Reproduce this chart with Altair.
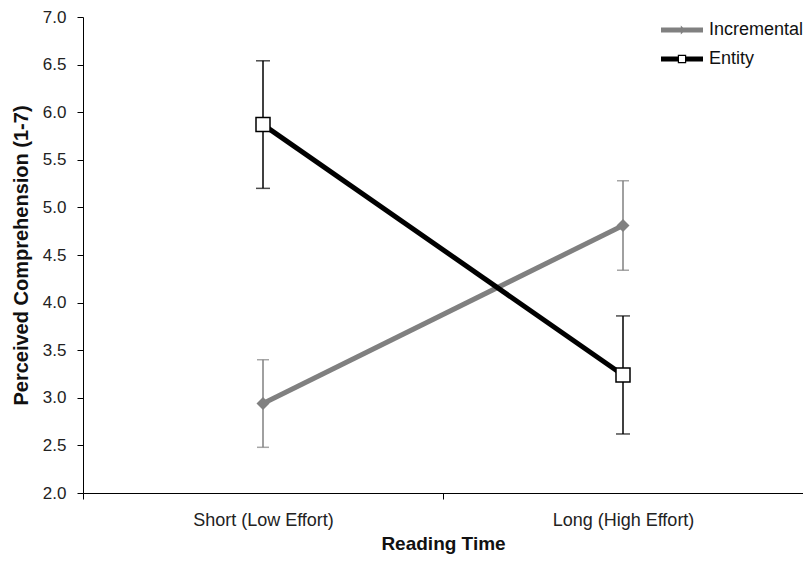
import altair as alt
import pandas as pd

categories = ["Short (Low Effort)", "Long (High Effort)"]
series_names = ["Incremental", "Entity"]
incremental = [2.94, 4.81]
incremental_err = [0.46, 0.47]
entity = [5.87, 3.24]
entity_err = [0.67, 0.62]

rows = []
for name, vals, errs in [("Incremental", incremental, incremental_err), ("Entity", entity, entity_err)]:
    for c, v, e in zip(categories, vals, errs):
        rows.append({"series": name, "category": c, "value": v, "lo": v - e, "hi": v + e})
df = pd.DataFrame(rows)

FONT = "Liberation Sans"
GRAY = "#808080"
BLACK = "#000000"

x_enc = alt.X(
    "category:N",
    sort=categories,
    scale=alt.Scale(type="band", paddingInner=0, paddingOuter=0),
    axis=alt.Axis(
        title="Reading Time",
        labelAngle=0,
        tickBand="extent",
        labelFontSize=18,
        labelPadding=12,
        titleFontSize=19,
        titleFontWeight="bold",
        titlePadding=5,
    ),
)
y_scale = alt.Scale(domain=[2, 7], nice=False, zero=False)
y_enc = alt.Y(
    "value:Q",
    scale=y_scale,
    axis=alt.Axis(
        title="Perceived Comprehension (1-7)",
        values=[2, 2.5, 3, 3.5, 4, 4.5, 5, 5.5, 6, 6.5, 7],
        format=".1f",
        labelFontSize=17,
        labelPadding=11,
        titleFontSize=20,
        titleFontWeight="bold",
        titlePadding=11,
    ),
)

base = alt.Chart(df)

# legend symbols: a thick line with the series marker, drawn wider than the symbol box
entity_path = ("M-1.75,-0.21H-0.35V0.21H-1.75Z M0.35,-0.21H1.75V0.21H0.35Z "
               "M-0.35,-0.36H0.35V0.36H-0.35Z M-0.25,-0.26V0.26H0.25V-0.26Z")
incr_path = "M-1.75,-0.2H1.75V0.2H-1.75Z M-0.1,-0.38L0.3,0L-0.1,0.38Z"

leg = dict(
    title=None,
    orient="none",
    legendX=587,
    legendY=1,
    padding=0,
    symbolSize=576,
    symbolStrokeWidth=0,
    labelFontSize=18,
    labelFont=FONT,
    labelColor="#111111",
    labelOffset=15,
    rowPadding=8,
    symbolOpacity=1,
)

legend_layer = base.mark_point(filled=True, size=6, opacity=1).encode(
    x=x_enc,
    y=y_enc,
    color=alt.Color(
        "series:N",
        scale=alt.Scale(domain=series_names, range=[GRAY, BLACK]),
        legend=alt.Legend(**leg),
    ),
    shape=alt.Shape(
        "series:N",
        scale=alt.Scale(domain=series_names, range=[incr_path, entity_path]),
        legend=alt.Legend(**leg),
    ),
)

layers = [legend_layer]
styles = {
    "Incremental": dict(color=GRAY, cap=12, ew=1.5),
    "Entity": dict(color=BLACK, cap=14, ew=1.5),
}
for name in series_names:
    st = styles[name]
    sub = base.transform_filter(alt.datum.series == name)
    layers.append(
        sub.mark_rule(color=st["color"], strokeWidth=st["ew"]).encode(
            x=x_enc, y=alt.Y("lo:Q", scale=y_scale), y2="hi:Q"
        )
    )
    layers.append(
        sub.mark_tick(color=st["color"], thickness=st["ew"], size=st["cap"]).encode(
            x=x_enc, y=alt.Y("lo:Q", scale=y_scale)
        )
    )
    layers.append(
        sub.mark_tick(color=st["color"], thickness=st["ew"], size=st["cap"]).encode(
            x=x_enc, y=alt.Y("hi:Q", scale=y_scale)
        )
    )
for name in series_names:
    st = styles[name]
    sub = base.transform_filter(alt.datum.series == name)
    layers.append(
        sub.mark_line(color=st["color"], strokeWidth=5).encode(x=x_enc, y=y_enc)
    )
inc_sub = base.transform_filter(alt.datum.series == "Incremental")
layers.append(
    inc_sub.mark_point(shape="diamond", filled=True, color=GRAY, size=170, opacity=1).encode(
        x=x_enc, y=y_enc
    )
)
ent_sub = base.transform_filter(alt.datum.series == "Entity")
layers.append(
    ent_sub.mark_point(shape="square", filled=True, fill="white", stroke=BLACK,
                       strokeWidth=1.5, size=196, opacity=1).encode(x=x_enc, y=y_enc)
)

chart = alt.layer(*layers).properties(
    width=720,
    height=476,
    autosize=alt.AutoSizeParams(type="none"),
    padding={"left": 75, "top": 9, "right": 0, "bottom": 61},
    background="white",
).configure_view(stroke=None).configure_axis(
    labelFont=FONT,
    titleFont=FONT,
    labelColor="#222222",
    titleColor="#111111",
    domainColor="#000000",
    tickColor="#000000",
    tickSize=6,
    grid=False,
)

chart.save("out.html", embed_options={"renderer": "svg", "actions": False})
